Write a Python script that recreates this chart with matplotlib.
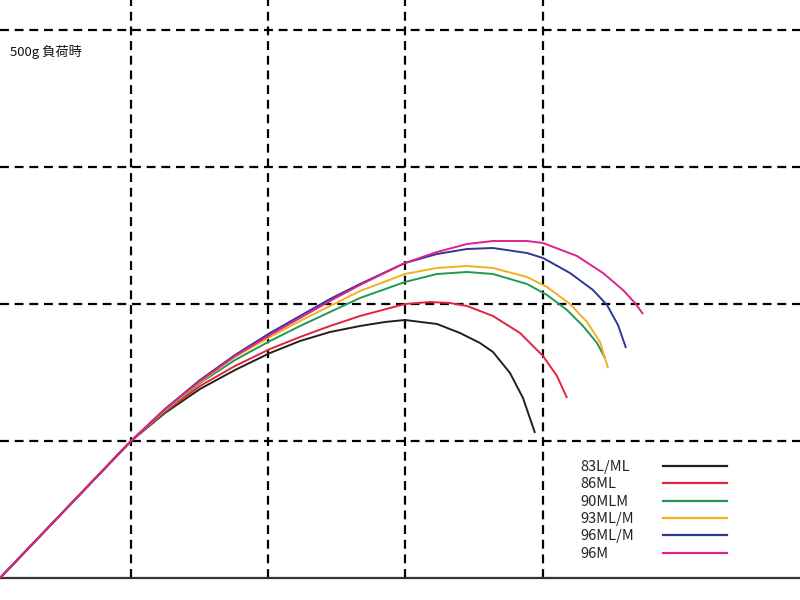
import matplotlib
matplotlib.use('Agg')
import matplotlib.pyplot as plt

plt.rcParams['font.family'] = ['Noto Sans CJK JP', 'DejaVu Sans']

# 読み取った曲線 (x: 横位置, h: 高さ)
x_83 = [0, 65, 131, 165, 200, 235, 270, 300, 330, 360, 385, 405, 437, 460, 480, 493, 510, 523, 535]
h_83 = [0, 68, 137, 165, 189, 208, 225, 237, 246, 252, 256, 258, 254, 245, 235, 226, 205, 180, 145]

x_86 = [0, 65, 131, 165, 200, 235, 270, 300, 330, 360, 405, 430, 450, 467, 493, 520, 543, 557, 567]
h_86 = [0, 68, 137, 166, 192, 212, 229, 241, 252, 262, 274, 276, 275, 272, 262, 245, 222, 202, 180]

x_90 = [0, 65, 131, 165, 200, 235, 270, 300, 330, 360, 405, 437, 467, 493, 527, 547, 567, 583, 597, 605]
h_90 = [0, 68, 137, 167, 195, 218, 237, 252, 266, 280, 296, 304, 306, 304, 294, 283, 268, 252, 235, 220]

x_93 = [0, 65, 131, 165, 200, 235, 270, 300, 330, 360, 405, 437, 467, 493, 527, 547, 570, 587, 600, 608]
h_93 = [0, 68, 137, 168, 196, 221, 241, 257, 272, 287, 304, 310, 312, 310, 301, 291, 274, 256, 236, 210]

x_96mlm = [0, 65, 131, 165, 200, 235, 270, 300, 330, 360, 405, 437, 467, 493, 527, 543, 570, 593, 607, 618, 626]
h_96mlm = [0, 68, 137, 169, 198, 223, 245, 262, 279, 294, 315, 324, 329, 330, 325, 320, 305, 288, 273, 253, 230]

x_96m = [0, 65, 131, 165, 200, 235, 270, 300, 330, 360, 405, 437, 467, 493, 527, 543, 577, 603, 623, 635, 643]
h_96m = [0, 68, 137, 169, 197, 222, 243, 260, 277, 293, 315, 326, 334, 337, 337, 335, 322, 305, 288, 275, 264]

labels = ['83L/ML', '86ML', '90MLM', '93ML/M', '96ML/M', '96M']
colors = ['#231f20', '#e3223c', '#1f9a52', '#f2b01e', '#2e3896', '#e2208c']
series = [(x_83, h_83), (x_86, h_86), (x_90, h_90),
          (x_93, h_93), (x_96mlm, h_96mlm), (x_96m, h_96m)]

grid_x = [131, 268, 405, 543]
grid_y = [137, 274, 411, 548]

fig = plt.figure(figsize=(8, 6), dpi=100)
ax = fig.add_axes([0, 22 / 600, 1, 578 / 600])
ax.set_xlim(0, 800)
ax.set_ylim(0, 578)

for gx in grid_x:
    ax.axvline(gx, color='black', lw=1.6, ls=(0, (4, 2.6)), zorder=1)
for gy in grid_y:
    ax.axhline(gy, color='black', lw=1.6, ls=(0, (4, 2.6)), zorder=1)

for (xs, hs), c in zip(series, colors):
    ax.plot(xs, hs, color=c, lw=1.4, zorder=3,
            solid_capstyle='butt', solid_joinstyle='round')

# 凡例
for i, (lab, c) in enumerate(zip(labels, colors)):
    yy = 111 - i * 17.3
    ax.text(580, yy, lab, fontsize=10.5, va='center', ha='left', color='#222222')
    ax.plot([663, 727], [yy + 1, yy + 1], color=c, lw=1.6)

ax.text(10, 526, '500g 負荷時', fontsize=9.5, va='center', ha='left', color='#111111')

for s in ['top', 'right', 'left']:
    ax.spines[s].set_visible(False)
ax.spines['bottom'].set_color('#333333')
ax.spines['bottom'].set_linewidth(1.6)
ax.set_xticks([])
ax.set_yticks([])

fig.savefig('out.png', dpi=100)
